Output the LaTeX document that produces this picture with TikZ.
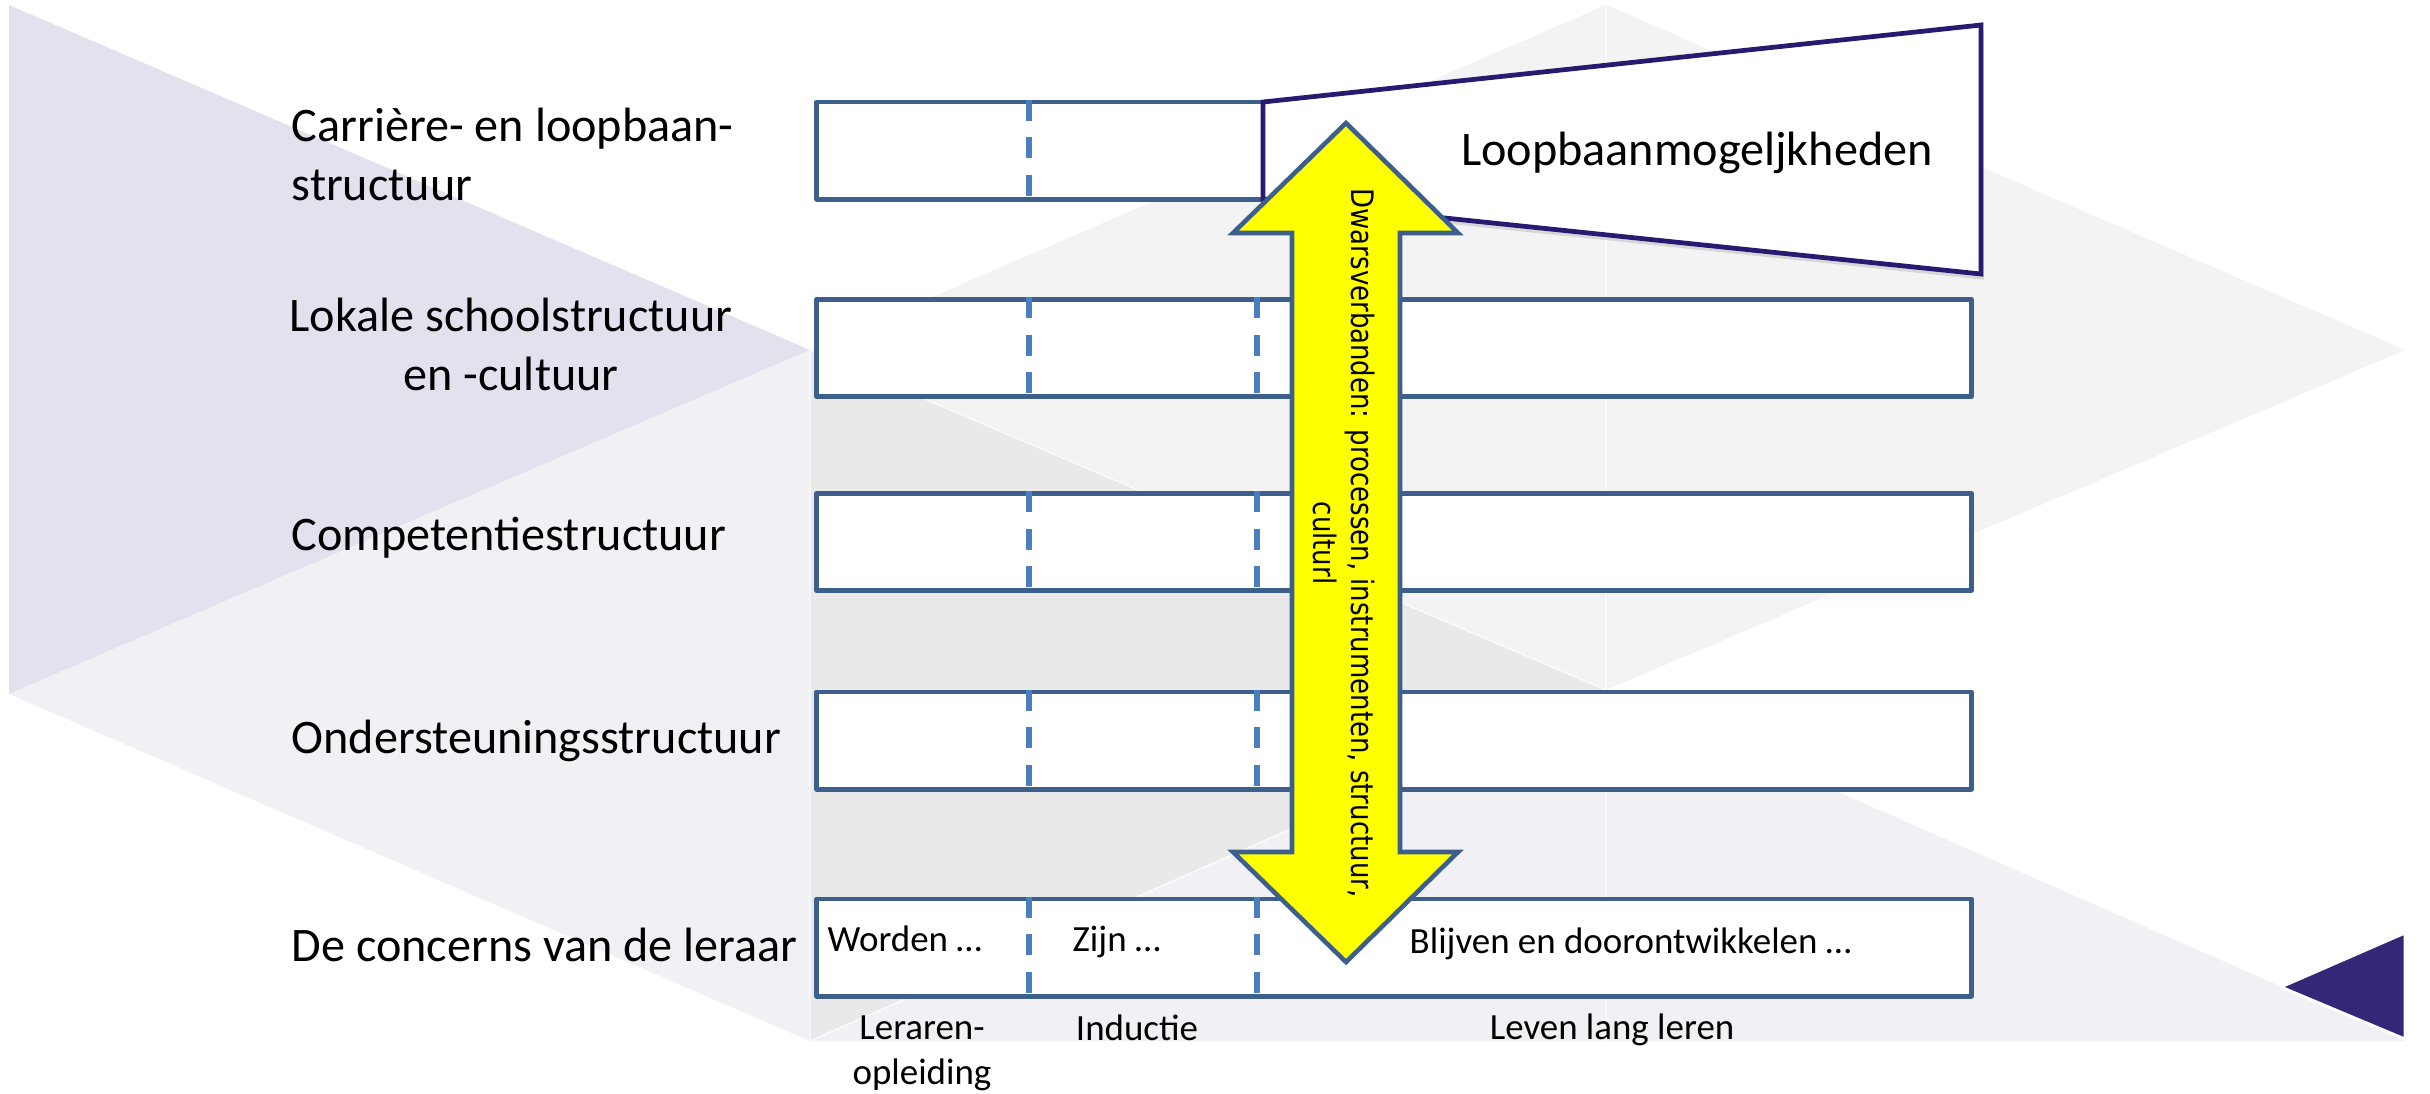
\documentclass[tikz,border=0pt]{standalone}
\usepackage{fontspec}
\setmainfont{Carlito}
\newfontfamily\arrowfont[FakeStretch=0.84]{DejaVu Sans}
\usetikzlibrary{shadows}

\definecolor{lavdark}{RGB}{227,225,238}
\definecolor{lavlight}{RGB}{241,240,245}
\definecolor{greydark}{RGB}{233,233,233}
\definecolor{greylight}{RGB}{243,243,243}
\definecolor{accent}{RGB}{52,39,120}
\definecolor{barblue}{RGB}{61,95,140}
\definecolor{dashblue}{RGB}{74,126,190}
\definecolor{navy}{RGB}{38,27,112}
\definecolor{arrowyellow}{RGB}{255,255,0}

\tikzset{
  bar/.style={draw=barblue, fill=white, line width=1.4pt, line join=round,
    inner sep=0pt, minimum height=0.97cm},
  divider/.style={draw=dashblue, line width=1.45pt, dash pattern=on 6pt off 4.7pt},
  rowlabel/.style={font=\fontsize{13.7}{16.5}\selectfont, inner sep=0pt, anchor=base west},
  celltext/.style={font=\fontsize{10.5}{12.6}\selectfont, inner sep=0pt, anchor=base west},
  phase/.style={font=\fontsize{10.5}{12.7}\selectfont, inner sep=0pt, anchor=base, align=center},
  facet/.style={draw=white, line width=0.4pt},
}

\begin{document}
\begin{tikzpicture}[x=0.01cm, y=-0.01cm]
\useasboundingbox (0,0) rectangle (2430,1093);
\fill[white] (0,0) rectangle (2430,1093);

% background facets
\coordinate (gTL) at (9,5);
\coordinate (gML) at (9,694);
\coordinate (gC) at (810,350);
\coordinate (gCB) at (810,1041);
\coordinate (gT) at (1606,5);
\coordinate (gM) at (1606,690);
\coordinate (gMB) at (1606,1041);
\coordinate (gR) at (2405,350);
\coordinate (gRB) at (2405,1041);

\fill[lavdark] (gTL) -- (gC) -- (gML) -- cycle;
\fill[lavlight] (gML) -- (gC) -- (gCB) -- cycle;
\fill[greylight] (gC) -- (gT) -- (gM) -- cycle;
\fill[greydark] (gC) -- (gM) -- (gCB) -- cycle;
\fill[lavlight] (gCB) -- (gM) -- (gMB) -- cycle;
\fill[greylight] (gT) -- (gR) -- (gM) -- cycle;
\fill[lavlight] (gM) -- (gRB) -- (gMB) -- cycle;
\draw[facet, opacity=0.8] (gC) -- (gCB) (gT) -- (gMB) (gCB) -- (gM) (gC) -- (gM);

\coordinate (pA) at (2281,987);
\coordinate (pB) at (2405,933);
\coordinate (pC) at (2405,1039);
\filldraw[accent, draw=white, line width=0.8pt, line join=round] (pA) -- (pB) -- (pC) -- cycle;

% row bars
\node[bar, minimum width=4.46cm] (bar1) at (1040,150.5) {};
\node[bar, minimum width=11.54cm] (bar2) at (1394,348) {};
\node[bar, minimum width=11.54cm] (bar3) at (1394,542) {};
\node[bar, minimum width=11.54cm] (bar4) at (1394,740.5) {};
\node[bar, minimum width=11.54cm] (bar5) at (1394,947.5) {};

\coordinate (dA) at (1029,0);
\coordinate (dB) at (1257,0);
\draw[divider] (bar1.north -| dA) -- (bar1.south -| dA);
\foreach \b in {bar2,bar3,bar4,bar5}{
  \draw[divider] (\b.north -| dA) -- (\b.south -| dA);
  \draw[divider] (\b.north -| dB) -- (\b.south -| dB);
}

% career funnel
\coordinate (fA) at (1263,102);
\coordinate (fB) at (1981,25);
\coordinate (fC) at (1981,274);
\coordinate (fD) at (1263,199);
\path[fill=white, draw=navy, line width=1.35pt, line join=miter,
  drop shadow={shadow xshift=0.8pt, shadow yshift=-1.6pt, opacity=0.2, fill=black!60}]
  (fA) -- (fB) -- (fC) -- (fD) -- cycle;
\node[font=\fontsize{13.7}{16.5}\selectfont, inner sep=0pt, anchor=base] (careers)
  at (1697,165) {Loopbaanmogeljkheden};

% row labels (multi-line labels are anchored at the baseline of their last line)
\node[rowlabel, align=left] (lab1) at (291,200) {Carrière- en loopbaan-\\structuur};
\node[rowlabel, align=center, anchor=base] (lab2) at (511,390) {Lokale schoolstructuur\\en -cultuur};
\node[rowlabel] (lab3) at (291,550) {Competentiestructuur};
\node[rowlabel] (lab4) at (291,753) {Ondersteuningsstructuur};
\node[rowlabel] (lab5) at (291,961) {De concerns van de leraar};

% cell texts of the bottom bar
\node[celltext] (c1) at (827,951) {Worden …};
\node[celltext] (c2) at (1072,951) {Zijn …};
\node[celltext] (c3) at (1409,953) {Blijven en doorontwikkelen …};

% phases under the bottom bar
\node[phase] (ph1) at (922,1084) {Leraren-\\opleiding};
\node[phase] (ph2) at (1137,1040) {Inductie};
\node[phase] (ph3) at (1612,1039) {Leven lang leren};

% vertical double arrow
\coordinate (aT) at (1346,123);
\coordinate (aB) at (1346,962);
\draw[fill=arrowyellow, draw=barblue, line width=1.3pt, line join=miter]
  (aT) -- (1458,233) -- (1400,233) -- (1400,852) -- (1458,852) -- (aB)
  -- (1233,852) -- (1292,852) -- (1292,233) -- (1233,233) -- cycle;
\node[rotate=-90, align=center, inner sep=0pt,
  font=\arrowfont\fontsize{8.8}{10.9}\selectfont] (links) at (1344,543)
  {Dwarsverbanden: processen, instrumenten, structuur,\\culturl};
\end{tikzpicture}
\end{document}
